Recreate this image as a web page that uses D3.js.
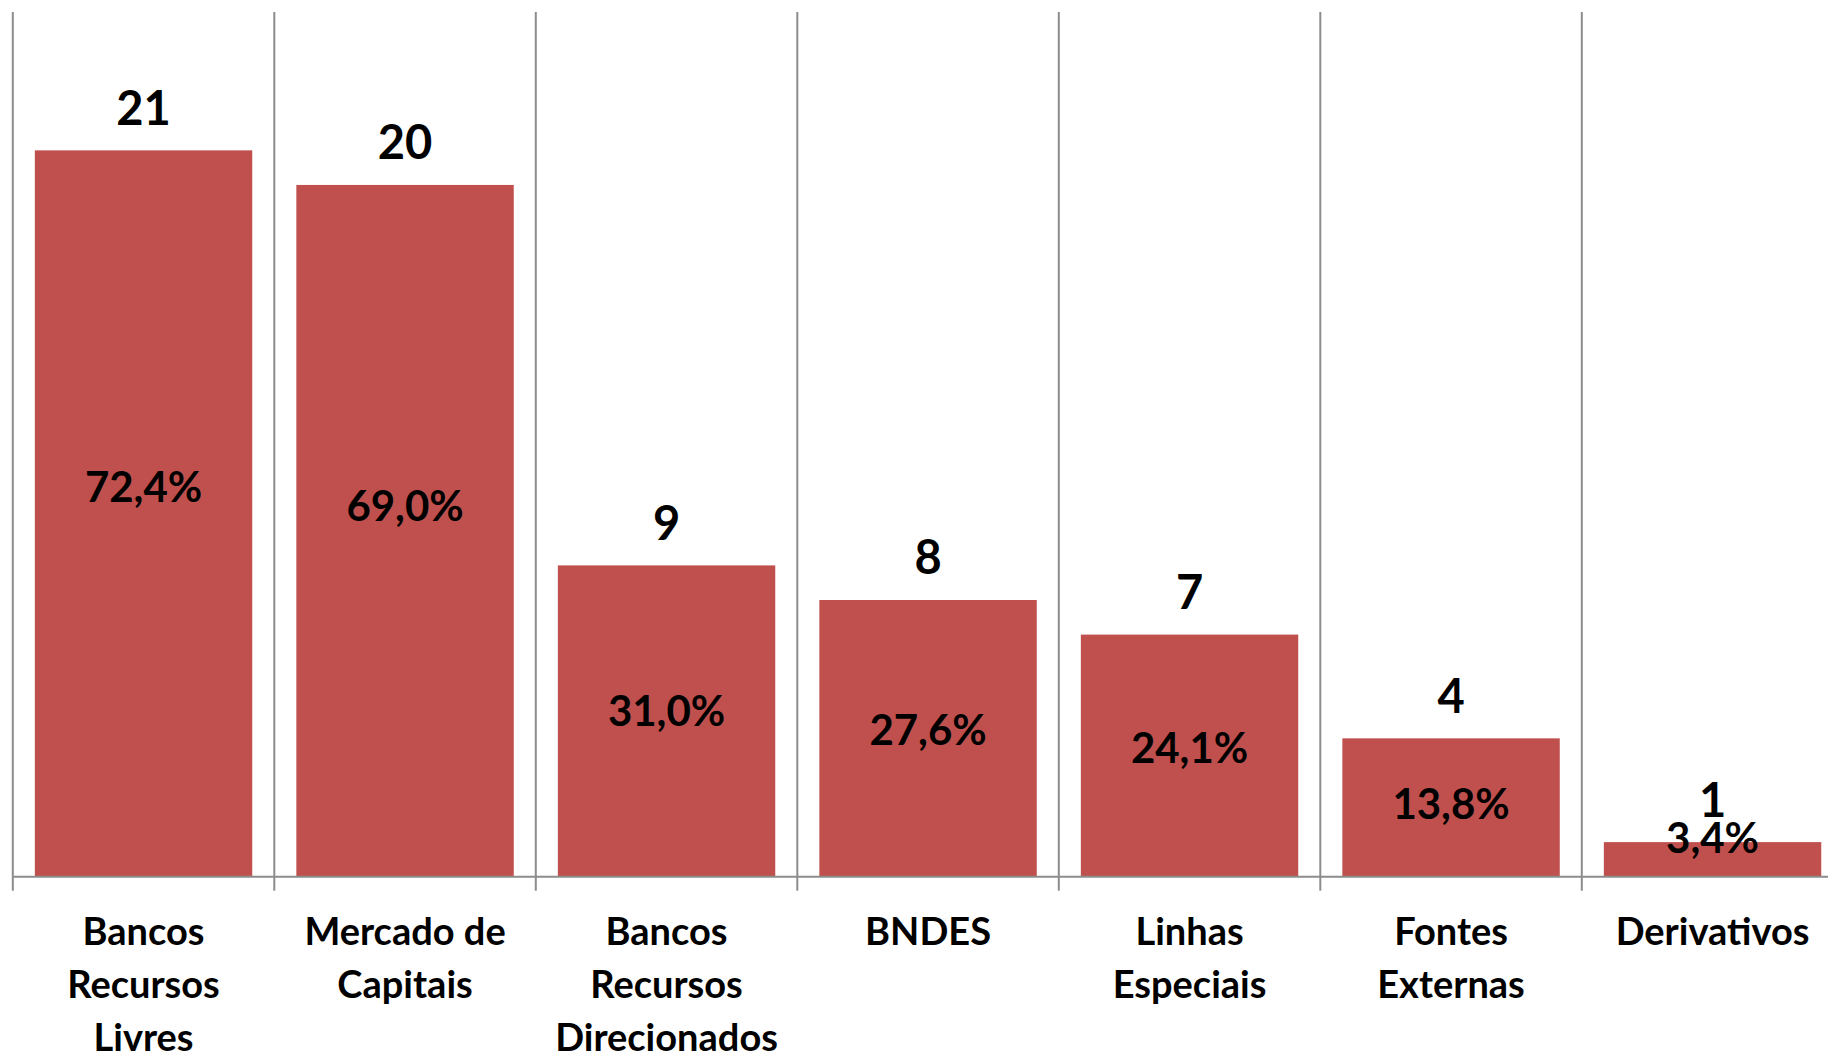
<!DOCTYPE html>
<html>
<head>
<meta charset="utf-8">
<script src="https://cdn.jsdelivr.net/npm/d3@7"></script>
<style>
  html, body { margin: 0; padding: 0; background: #fff; }
  svg { display: block; }
  text { font-family: Lato, "Open Sans", sans-serif; font-weight: 700; fill: #000; }
</style>
</head>
<body>
<svg id="chart" width="1828" height="1055"></svg>
<script>
// Funding sources: number of mentions and share of respondents
const categories = [
  ["Bancos", "Recursos", "Livres"],
  ["Mercado de", "Capitais"],
  ["Bancos", "Recursos", "Direcionados"],
  ["BNDES"],
  ["Linhas", "Especiais"],
  ["Fontes", "Externas"],
  ["Derivativos"]
];
const counts = [21, 20, 9, 8, 7, 4, 1];
const shares = [72.4, 69.0, 31.0, 27.6, 24.1, 13.8, 3.4];
const countMax = 25;   // primary axis maximum
const shareMax = 80;   // secondary axis maximum (percent series)

const W = 1828, H = 1055;
const plot = { left: 12.8, top: 12, bottom: 876.7, step: 261.5 };
const n = counts.length;

const svg = d3.select("#chart");

const x = d3.scaleBand()
  .domain(d3.range(n))
  .range([plot.left, plot.left + plot.step * n])
  .paddingInner(0.1686)
  .paddingOuter(0.0843);

const y = d3.scaleLinear().domain([0, countMax]).range([plot.bottom, plot.top]);
const yShare = d3.scaleLinear().domain([0, shareMax]).range([plot.bottom, plot.top]);

const gridColor = "#8c8c8c";
const bandStart = i => plot.left + plot.step * i;

// Vertical gridlines at category boundaries
svg.append("g")
  .selectAll("line")
  .data(d3.range(n + 1))
  .join("line")
  .attr("x1", i => bandStart(i))
  .attr("x2", i => bandStart(i))
  .attr("y1", plot.top)
  .attr("y2", plot.bottom)
  .attr("stroke", gridColor)
  .attr("stroke-width", 2);

// Bars
svg.append("g")
  .selectAll("rect")
  .data(counts)
  .join("rect")
  .attr("x", (d, i) => x(i))
  .attr("width", x.bandwidth())
  .attr("y", d => y(d))
  .attr("height", d => y(0) - y(d))
  .attr("fill", "#C0504D");

// Category axis: baseline with ticks between categories
const axis = svg.append("g");
axis.append("line")
  .attr("x1", plot.left).attr("x2", W)
  .attr("y1", plot.bottom).attr("y2", plot.bottom)
  .attr("stroke", gridColor).attr("stroke-width", 2);
axis.selectAll("line.tick")
  .data(d3.range(n + 1))
  .join("line")
  .attr("class", "tick")
  .attr("x1", i => bandStart(i)).attr("x2", i => bandStart(i))
  .attr("y1", plot.bottom).attr("y2", plot.bottom + 14)
  .attr("stroke", gridColor).attr("stroke-width", 2);

// Category labels
const catLabels = svg.append("g")
  .selectAll("text")
  .data(categories)
  .join("text")
  .attr("text-anchor", "middle")
  .attr("font-size", 38)
  .attr("y", 945);
catLabels.each(function(lines, i) {
  const cx = x(i) + x.bandwidth() / 2;
  d3.select(this).selectAll("tspan")
    .data(lines)
    .join("tspan")
    .attr("x", cx)
    .attr("dy", (d, k) => k === 0 ? 0 : 53)
    .text(d => d);
});

// Count labels above bars
svg.append("g")
  .selectAll("text")
  .data(counts)
  .join("text")
  .attr("text-anchor", "middle")
  .attr("font-size", 47)
  .attr("x", (d, i) => x(i) + x.bandwidth() / 2)
  .attr("y", d => y(d) - 25.5)
  .text(d => d);

// Share labels, centred on the secondary-axis series and kept inside the plot
const fmt = v => v.toFixed(1).replace(".", ",") + "%";
svg.append("g")
  .selectAll("text")
  .data(shares)
  .join("text")
  .attr("text-anchor", "middle")
  .attr("font-size", 42)
  .attr("x", (d, i) => x(i) + x.bandwidth() / 2)
  .attr("y", d => Math.min(yShare(d / 2), plot.bottom - 41) + 17)
  .text(d => fmt(d));
</script>
</body>
</html>
